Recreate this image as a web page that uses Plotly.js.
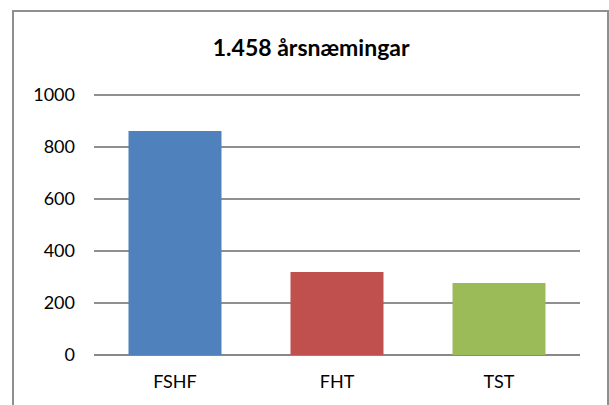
<!DOCTYPE html>
<html>
<head>
<meta charset="utf-8">
<script src="https://cdn.plot.ly/plotly-3.0.1.min.js"></script>
<style>html,body{margin:0;padding:0;background:#fff;}#chart{width:609px;height:405px;}</style>
</head>
<body>
<div id="chart"></div>
<script>
const categories = ["FSHF", "FHT", "TST"];
const values = [862, 319, 277];
const barColors = ["#4F81BD", "#C0504D", "#9BBB59"];
const titleText = "1.458 årsnæmingar";

const FONT = "Lato, 'Open Sans', sans-serif";

const trace = {
  type: "bar",
  x: categories,
  y: values,
  marker: { color: barColors, line: { width: 0 } },
  hoverinfo: "x+y"
};

const layout = {
  width: 609,
  height: 405,
  margin: { l: 94, r: 29, t: 94, b: 50 },
  paper_bgcolor: "#ffffff",
  plot_bgcolor: "#ffffff",
  showlegend: false,
  bargap: 0.426,
  title: {
    text: "<b>" + titleText + "</b>",
    font: { family: FONT, size: 23, color: "#000000" },
    xref: "container", x: 0.511, xanchor: "center",
    yref: "container", y: 1 - 48 / 405, yanchor: "middle"
  },
  font: { family: FONT, color: "#000000" },
  xaxis: {
    type: "category",
    showgrid: false,
    showline: false,
    zeroline: false,
    ticks: "",
    ticklabelstandoff: 14,
    tickfont: { family: FONT, size: 18, color: "#000000" },
    fixedrange: true
  },
  yaxis: {
    range: [0, 1004],
    dtick: 200,
    tick0: 0,
    showgrid: true,
    gridcolor: "#8f8f8f",
    gridwidth: 1.5,
    zeroline: true,
    zerolinecolor: "#888888",
    zerolinewidth: 2,
    showline: false,
    ticks: "",
    ticklabelstandoff: 18,
    tickfont: { family: FONT, size: 18, color: "#000000" },
    fixedrange: true
  },
  shapes: [
    {
      type: "rect", xref: "paper", yref: "paper",
      x0: (13 - 94) / 486, x1: (608 - 94) / 486,
      y0: (355 - 430) / 261, y1: (355 - 11) / 261,
      line: { color: "#8f8f8f", width: 2 },
      fillcolor: "rgba(0,0,0,0)",
      layer: "below"
    }
  ]
};

Plotly.newPlot("chart", [trace], layout, { staticPlot: true, displayModeBar: false });
</script>
</body>
</html>
